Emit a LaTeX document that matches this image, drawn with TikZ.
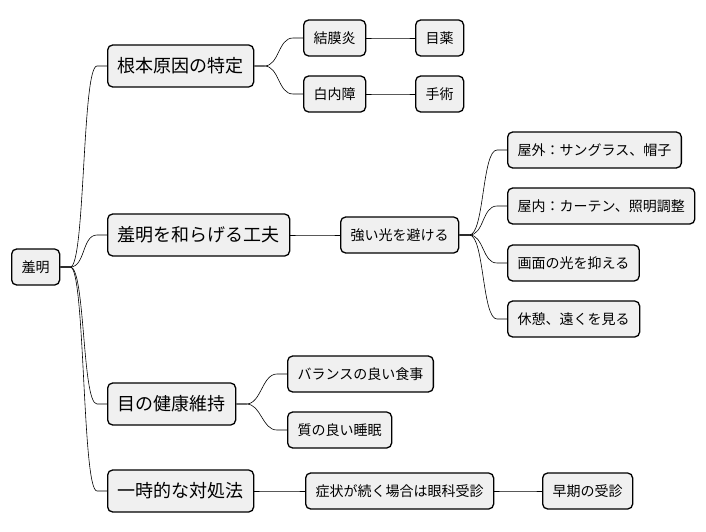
\documentclass[tikz,border=0pt]{standalone}
\usepackage{fontspec}
\newfontfamily\jpfont{Noto Sans CJK JP}
\usetikzlibrary{positioning, calc}

\begin{document}
\begin{tikzpicture}[
  x=1pt, y=-1pt,
  font=\jpfont,
  topic/.style={draw=black, fill=gray!12, line width=1.3pt, rounded corners=5pt, anchor=west,
    inner xsep=10pt, inner ysep=0pt, minimum height=36pt, font=\jpfont\fontsize{14}{16}\selectfont},
  major/.style={topic, minimum height=42pt, font=\jpfont\fontsize{18}{20}\selectfont},
  branch/.style={draw=black, line width=0.6pt,
    to path={-- ++(10,0) .. controls +(15,0) and +(-15,0) .. ([xshift=-10pt]\tikztotarget) -- (\tikztotarget)}}
]
\useasboundingbox (0,0) rectangle (706,532);

% --- centre of the map ---
\node[topic] (root) at (11,267) {羞明};

% --- four main branches ---
\node[major] (cause)  at (107,66)  {根本原因の特定};
\node[major] (ease)   at (107,235) {羞明を和らげる工夫};
\node[major] (health) at (107,404) {目の健康維持};
\node[major] (temp)   at (107,491) {一時的な対処法};

% --- second and third level ---
\node[topic] (conj)  at (303,38)  {結膜炎};
\node[topic] (cata)  at (303,94)  {白内障};
\node[topic] (drops) at (415,38)  {目薬};
\node[topic] (surg)  at (415,94)  {手術};

\node[topic] (avoid)   at (340,235) {強い光を避ける};
\node[topic] (outdoor) at (507,150) {屋外：サングラス、帽子};
\node[topic] (indoor)  at (507,206) {屋内：カーテン、照明調整};
\node[topic] (screen)  at (507,263) {画面の光を抑える};
\node[topic] (rest)    at (507,319) {休憩、遠くを見る};

\node[topic] (diet)  at (287,374) {バランスの良い食事};
\node[topic] (sleep) at (287,430) {質の良い睡眠};

\node[topic] (visit) at (305,491) {症状が続く場合は眼科受診};
\node[topic] (early) at (542,491) {早期の受診};

% connectors
\draw[branch] (root.east) to (cause.west);
\draw[branch] (root.east) to (ease.west);
\draw[branch] (root.east) to (health.west);
\draw[branch] (root.east) to (temp.west);

\draw[branch] (cause.east) to (conj.west);
\draw[branch] (cause.east) to (cata.west);
\draw[branch] (conj.east) to (drops.west);
\draw[branch] (cata.east) to (surg.west);

\draw[branch] (ease.east) to (avoid.west);
\draw[branch] (avoid.east) to (outdoor.west);
\draw[branch] (avoid.east) to (indoor.west);
\draw[branch] (avoid.east) to (screen.west);
\draw[branch] (avoid.east) to (rest.west);

\draw[branch] (health.east) to (diet.west);
\draw[branch] (health.east) to (sleep.west);

\draw[branch] (temp.east) to (visit.west);
\draw[branch] (visit.east) to (early.west);

\end{tikzpicture}
\end{document}
